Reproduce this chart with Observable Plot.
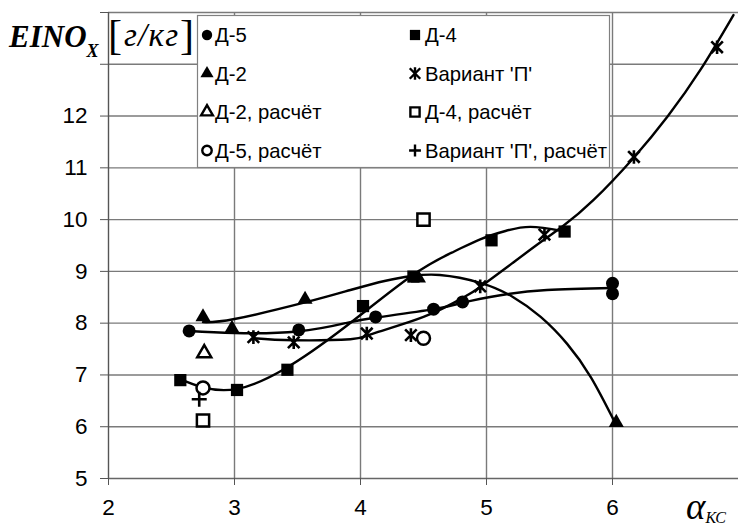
<!DOCTYPE html>
<html><head><meta charset="utf-8">
<script src="https://cdn.jsdelivr.net/npm/d3@7"></script>
<script src="https://cdn.jsdelivr.net/npm/@observablehq/plot@0.6"></script>
<style>body{margin:0;background:#fff} svg{display:block}</style>
</head><body><div id="chart"></div>
<script>
// ---- measured points ----
const d5X = [2.64, 3.51, 4.12, 4.58, 4.81, 6.0, 6.0];
const d5Y = [7.85, 7.87, 8.12, 8.27, 8.41, 8.77, 8.57];
const d4X = [2.57, 3.02, 3.42, 4.02, 4.42, 5.04, 5.62];
const d4Y = [6.9, 6.71, 7.1, 8.33, 8.9, 9.6, 9.77];
const d2X = [2.75, 2.98, 3.56, 4.46, 6.03];
const d2Y = [8.12, 7.9, 8.46, 8.87, 6.08];
const pX = [3.15, 3.47, 4.05, 4.40, 4.95, 5.46, 6.17, 6.83];
const pY = [7.73, 7.63, 7.80, 7.77, 8.71, 9.71, 11.21, 13.33];
// calculated points
const d2cX = [2.76], d2cY = [7.42];
const d5cX = [2.75, 4.5], d5cY = [6.75, 7.71];
const d4cX = [2.75, 4.5], d4cY = [6.12, 10.0];
const pcX = [2.72], pcY = [6.53];
// ---- trend curves ----
const d5CurveX = [2.64, 3.0, 3.5, 3.88, 4.1, 4.58, 4.82, 5.11, 5.48, 6.0];
const d5CurveY = [7.85, 7.81, 7.84, 8.0, 8.1, 8.27, 8.4, 8.54, 8.64, 8.68];
const d4CurveX = [2.57, 2.75, 3.02, 3.4, 3.88, 4.41, 4.74, 4.95, 5.15, 5.35, 5.6];
const d4CurveY = [6.92, 6.76, 6.73, 7.12, 7.93, 8.92, 9.38, 9.62, 9.78, 9.86, 9.78];
const d2CurveX = [2.75, 3.0, 3.56, 3.92, 4.2, 4.41, 4.63, 4.95, 5.2, 5.43, 5.64, 5.83, 6.02];
const d2CurveY = [8.02, 8.08, 8.4, 8.64, 8.82, 8.91, 8.93, 8.78, 8.52, 8.12, 7.6, 6.95, 6.08];
const pCurveX = [3.15, 3.47, 3.92, 4.1, 4.5, 4.82, 4.95, 5.2, 5.45, 5.61, 5.85, 6.17, 6.44, 6.7, 6.96];
const pCurveY = [7.71, 7.67, 7.69, 7.8, 8.12, 8.5, 8.7, 9.15, 9.6, 9.88, 10.38, 11.2, 12.0, 12.9, 13.95];
// ---- axes ----
const xTicks = [2, 3, 4, 5, 6];
const yTicks = [5, 6, 7, 8, 9, 10, 11, 12, 13, 14];
const yLabelled = [5, 6, 7, 8, 9, 10, 11, 12];
const legendLabels = ["Д-5", "Д-4", "Д-2", "Вариант 'П'", "Д-2, расчёт", "Д-4, расчёт", "Д-5, расчёт", "Вариант 'П', расчёт"];

const rows = (xs, ys) => xs.map((x, i) => ({x, y: ys[i]}));

const starSym = {draw(ctx, size) {
  const r = Math.sqrt(size / Math.PI);
  const a = r * 0.85;
  ctx.moveTo(-a, -a); ctx.lineTo(a, a);
  ctx.moveTo(a, -a); ctx.lineTo(-a, a);
  ctx.moveTo(0, -r); ctx.lineTo(0, r);
}};
const plusSym = {draw(ctx, size) {
  const r = Math.sqrt(size / Math.PI);
  ctx.moveTo(-r, 0); ctx.lineTo(r, 0);
  ctx.moveTo(0, -r); ctx.lineTo(0, r);
}};

const gridC = "#7a7a7a";
const lineOpts = {x: "x", y: "y", curve: "natural", stroke: "black", strokeWidth: 2.4};

const plot = Plot.plot({
  width: 738, height: 529,
  marginLeft: 108, marginRight: 0, marginTop: 12, marginBottom: 51,
  x: {domain: [2, 7]},
  y: {domain: [5, 14]},
  style: {fontFamily: "'Liberation Sans', Arial, sans-serif", background: "white", color: "black"},
  marks: [
    Plot.gridX([3, 4, 5, 6], {stroke: gridC, strokeOpacity: 1, strokeWidth: 1.4}),
    Plot.gridY([6, 7, 8, 9, 10, 11, 12, 13, 14], {stroke: gridC, strokeOpacity: 1, strokeWidth: 1.4}),
    Plot.ruleX([2], {stroke: "#555", strokeWidth: 1.4}),
    Plot.ruleY([5], {stroke: "#666", strokeWidth: 1.4}),
    Plot.axisY(yTicks, {tickSize: 8, tickPadding: 13, fontSize: 22.5, label: null, stroke: "#555",
      tickFormat: d => yLabelled.includes(d) ? String(d) : ""}),
    Plot.axisX(xTicks, {tickSize: 7, tickPadding: 14, fontSize: 22.5, label: null, stroke: "#555",
      tickFormat: d => String(d)}),
    Plot.line(rows(d5CurveX, d5CurveY), lineOpts),
    Plot.line(rows(d4CurveX, d4CurveY), lineOpts),
    Plot.line(rows(d2CurveX, d2CurveY), lineOpts),
    Plot.line(rows(pCurveX, pCurveY), lineOpts),
    Plot.dot(rows(d5X, d5Y), {x: "x", y: "y", symbol: "circle", r: 6.5, fill: "black"}),
    Plot.dot(rows(d4X, d4Y), {x: "x", y: "y", symbol: "square", r: 6.9, fill: "black"}),
    Plot.dot(rows(d2X, d2Y), {x: "x", y: "y", symbol: "triangle", r: 5.6, fill: "black"}),
    Plot.dot(rows(pX, pY), {x: "x", y: "y", symbol: starSym, r: 6.8, fill: "none", stroke: "black", strokeWidth: 2.6}),
    Plot.dot(rows(d2cX, d2cY), {x: "x", y: "y", symbol: "triangle", r: 5.2, fill: "white", stroke: "black", strokeWidth: 2.5}),
    Plot.dot(rows(d5cX, d5cY), {x: "x", y: "y", symbol: "circle", r: 6.5, fill: "white", stroke: "black", strokeWidth: 2.5}),
    Plot.dot(rows(d4cX, d4cY), {x: "x", y: "y", symbol: "square", r: 6.9, fill: "white", stroke: "black", strokeWidth: 2.5}),
    Plot.dot(rows(pcX, pcY), {x: "x", y: "y", symbol: plusSym, r: 7.5, fill: "none", stroke: "black", strokeWidth: 2.6})
  ]
});

document.getElementById("chart").appendChild(plot);

// ---- legend ----
const svg = d3.select(plot);
const lg = svg.append("g").attr("text-anchor", "start");
lg.append("rect").attr("x", 197.5).attr("y", 15.5).attr("width", 412).attr("height", 152)
  .attr("fill", "white").attr("stroke", "#808080").attr("stroke-width", 1.2);
const legSyms = [
  {s: d3.symbolCircle, size: 85, fill: "black"},
  {s: d3.symbolSquare, size: 105, fill: "black"},
  {s: d3.symbolTriangle, size: 75, fill: "black"},
  {s: starSym, size: 120, fill: "none", stroke: true},
  {s: d3.symbolTriangle, size: 60, fill: "white", stroke: true},
  {s: d3.symbolSquare, size: 85, fill: "white", stroke: true},
  {s: d3.symbolCircle, size: 70, fill: "white", stroke: true},
  {s: plusSym, size: 110, fill: "none", stroke: true}
];
const rowY = [35, 73.5, 112, 150.5];
const colMark = [207, 415], colText = [215, 425];
legendLabels.forEach((lab, i) => {
  const col = i % 2, row = Math.floor(i / 2);
  const m = legSyms[i];
  lg.append("path").attr("d", d3.symbol(m.s, m.size)())
    .attr("transform", `translate(${colMark[col]},${rowY[row]})`)
    .attr("fill", m.fill).attr("stroke", m.stroke ? "black" : "none").attr("stroke-width", 2.4);
  lg.append("text").attr("x", colText[col]).attr("y", rowY[row] + 7)
    .attr("font-size", 20.3).attr("font-family", "'Liberation Sans', Arial, sans-serif")
    .attr("fill", "black").text(lab);
});

// ---- axis titles ----
const serif = "'Liberation Serif', 'Times New Roman', serif";
const tg = svg.append("g").attr("text-anchor", "start").attr("fill", "black").attr("font-family", serif);
const t = tg.append("text").attr("x", 9).attr("y", 47)
  .attr("font-style", "italic").attr("font-weight", "bold");
t.append("tspan").attr("font-size", 31).text("EINO");
t.append("tspan").attr("font-size", 18).attr("dy", 10).text("X");
tg.append("text").attr("x", 108).attr("y", 49).attr("font-size", 42).text("[");
tg.append("text").attr("x", 124).attr("y", 46).attr("font-style", "italic").attr("font-size", 33)
  .attr("textLength", 54).attr("lengthAdjust", "spacing").text("г/кг");
tg.append("text").attr("x", 180).attr("y", 49).attr("font-size", 42).text("]");
const a = tg.append("text").attr("x", 686).attr("y", 519).attr("font-style", "italic");
a.append("tspan").attr("font-size", 37).text("α");
a.append("tspan").attr("font-size", 16).attr("dy", 4).text("КС");
</script></body></html>
